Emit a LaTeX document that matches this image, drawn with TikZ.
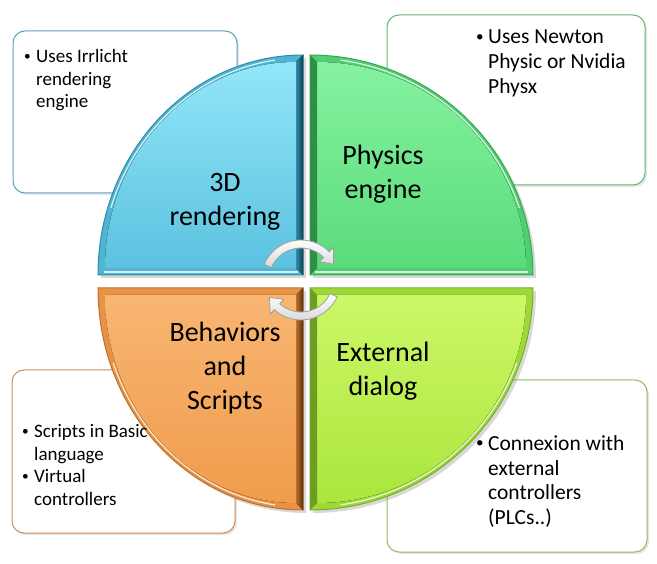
\documentclass[tikz,border=0pt]{standalone}
\usepackage{fontspec}
\setmainfont{Carlito}
\usetikzlibrary{arrows.meta,shapes,calc,shadows}

\definecolor{blueA}{HTML}{92E6F8}
\definecolor{blueB}{HTML}{5CC2E0}
\definecolor{blueedge}{HTML}{2E8DAE}
\definecolor{greenA}{HTML}{86F2A0}
\definecolor{greenB}{HTML}{5ADB7B}
\definecolor{greenedge}{HTML}{36A852}
\definecolor{orangeA}{HTML}{F8B672}
\definecolor{orangeB}{HTML}{F09C4C}
\definecolor{orangeedge}{HTML}{C07028}
\definecolor{limeA}{HTML}{CCF866}
\definecolor{limeB}{HTML}{AAE63E}
\definecolor{limeedge}{HTML}{7AAE28}

\newcommand{\bulletrows}[1]{\begin{tabular}[t]{@{}p{12pt}@{}l@{}}#1\end{tabular}}
\newcommand{\dotmark}{\raisebox{0.12em}{\scalebox{0.7}{\textbullet}}}

\begin{document}
\begin{tikzpicture}[x=1pt,y=-1pt,
	notebox/.style={rectangle, rounded corners=12pt, draw, line width=1pt, fill=white, inner sep=0pt,
		drop shadow={opacity=0.2,shadow xshift=2pt,shadow yshift=-2pt}},
	quarter/.style={line width=1pt, drop shadow={opacity=0.3,shadow xshift=3pt,shadow yshift=-3pt}},
	shine/.style={draw=white, draw opacity=0.8, line width=1.2pt},
	quadtext/.style={align=center, inner sep=0pt, font=\fontsize{28}{34}\selectfont},
	lefttext/.style={anchor=base west, inner sep=0pt, font=\fontsize{19}{22.5}\selectfont},
	righttext/.style={anchor=base west, inner sep=0pt, font=\fontsize{21.5}{25}\selectfont},
	cyclearrow/.style={draw=gray!75, line width=0.8pt, top color=white, bottom color=gray!30}]
	\useasboundingbox (0,0) rectangle (657,564);

	\path (125,112) node[notebox, draw=blueedge!80, minimum width=224pt, minimum height=162pt] (renderbox) {}
		(516,100) node[notebox, draw=greenedge!80, minimum width=258pt, minimum height=170pt] (physicsbox) {}
		(123.5,451.5) node[notebox, draw=orangeedge!80, minimum width=223pt, minimum height=163pt] (scriptbox) {}
		(517,466) node[notebox, draw=limeedge!80, minimum width=260pt, minimum height=172pt] (dialogbox) {};

	\coordinate (tl) at (303,275);
	\coordinate (tr) at (310,275);
	\coordinate (bl) at (303,288);
	\coordinate (br) at (310,288);

	\path[quarter, draw=blueedge, fill=blueB!75!blueedge] (tl) -- (98,275) arc[start angle=180, end angle=270, x radius=205, y radius=220] -- cycle;
	\path[quarter, draw=greenedge, fill=greenB!75!greenedge] (tr) -- (310,55) arc[start angle=270, end angle=360, x radius=223, y radius=220] -- cycle;
	\path[quarter, draw=orangeedge, fill=orangeB!80!orangeedge] (bl) -- (303,510) arc[start angle=90, end angle=180, x radius=205, y radius=222] -- cycle;
	\path[quarter, draw=limeedge, fill=limeB!75!limeedge] (br) -- (533,288) arc[start angle=0, end angle=90, x radius=223, y radius=222] -- cycle;

	\fill[top color=blueA, bottom color=blueB] (296,268) -- (105,268) arc[start angle=180, end angle=270, x radius=191, y radius=206] -- cycle;
	\fill[top color=greenA, bottom color=greenB] (317,268) -- (317,62) arc[start angle=270, end angle=360, x radius=209, y radius=206] -- cycle;
	\fill[top color=orangeA, bottom color=orangeB] (296,295) -- (296,503) arc[start angle=90, end angle=180, x radius=191, y radius=208] -- cycle;
	\fill[top color=limeA, bottom color=limeB] (317,295) -- (526,295) arc[start angle=0, end angle=90, x radius=209, y radius=208] -- cycle;

	\fill[left color=blueedge, right color=blueedge!45!black] (296,62) -- (303,55) -- (tl) -- (296,268) -- cycle;
	\fill[left color=orangeedge, right color=orangeedge!45!black] (296,295) -- (bl) -- (303,510) -- (296,503) -- cycle;
	\fill[greenedge!85!black] (310,55) -- (317,62) -- (317,268) -- (tr) -- cycle;
	\fill[limeedge!90!black] (br) -- (317,295) -- (317,503) -- (310,510) -- cycle;

	\draw[shine] (104,272) -- (298,272);
	\draw[shine] (315,272) -- (528,272);
	\draw[shine] ($(tl)+(198:202 and 217)$) arc[start angle=198, end angle=262, x radius=202, y radius=217];
	\draw[shine] ($(tr)+(278:220 and 217)$) arc[start angle=278, end angle=342, x radius=220, y radius=217];
	\draw[shine] ($(bl)+(98:202 and 219)$) arc[start angle=98, end angle=160, x radius=202, y radius=219];
	\draw[shine] ($(br)+(20:220 and 219)$) arc[start angle=20, end angle=82, x radius=220, y radius=219];

	\path (225,202) node[quadtext] (rendering) {3D\\rendering}
		(383,174) node[quadtext] (physics) {Physics\\engine}
		(225,368) node[quadtext] (behaviors) {Behaviors\\and\\Scripts}
		(383,371) node[quadtext] (dialog) {External\\dialog};

	\path (24,63) node[lefttext] (irrlicht) {\bulletrows{\dotmark & Uses Irrlicht\\ & rendering\\ & engine}}
		(476,44) node[righttext] (newton) {\bulletrows{\dotmark & Uses Newton\\ & Physic or Nvidia\\ & Physx}}
		(22,438) node[lefttext] (basic) {\bulletrows{\dotmark & Scripts in Basic\\ & language\\ \dotmark & Virtual\\ & controllers}}
		(476,450) node[righttext] (plcs) {\bulletrows{\dotmark & Connexion with\\ & external\\ & controllers\\ & (PLCs..)}};

	\coordinate (cyc) at (301,280);
	\path[cyclearrow] ($(cyc)+(315:46)$) -- ($(cyc)+(334:36)$) -- ($(cyc)+(315:26)$) -- ($(cyc)+(315:32)$)
		arc[start angle=315, end angle=203, radius=32] -- ($(cyc)+(203:40)$) arc[start angle=203, end angle=315, radius=40] -- cycle;
	\path[cyclearrow] ($(cyc)+(132:46)$) -- ($(cyc)+(151:36)$) -- ($(cyc)+(132:26)$) -- ($(cyc)+(132:32)$)
		arc[start angle=132, end angle=25, radius=32] -- ($(cyc)+(25:40)$) arc[start angle=25, end angle=132, radius=40] -- cycle;
\end{tikzpicture}
\end{document}
